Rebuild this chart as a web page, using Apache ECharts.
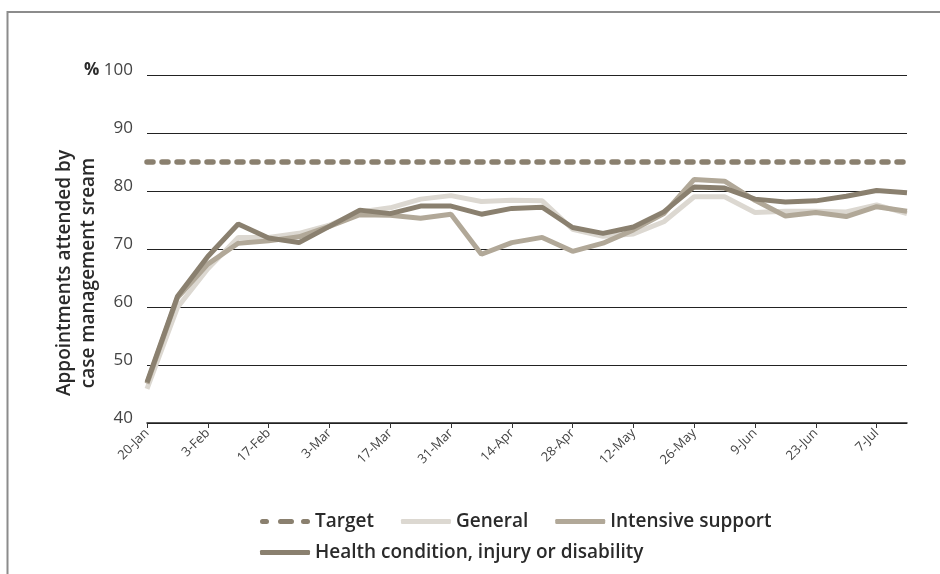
<!DOCTYPE html>
<html>
<head>
<meta charset="utf-8">
<script src="https://cdn.jsdelivr.net/npm/echarts@6/dist/echarts.min.js"></script>
<style>
  html, body { margin: 0; padding: 0; background: #fff; }
  #main { width: 940px; height: 574px; }
</style>
</head>
<body>
<div id="main"></div>
<script>
// weekly dates, 20-Jan to 14-Jul
var weeks = ["20-Jan", "27-Jan", "3-Feb", "10-Feb", "17-Feb", "24-Feb", "3-Mar", "10-Mar", "17-Mar",
  "24-Mar", "31-Mar", "7-Apr", "14-Apr", "21-Apr", "28-Apr", "5-May", "12-May", "19-May", "26-May",
  "2-Jun", "9-Jun", "16-Jun", "23-Jun", "30-Jun", "7-Jul", "14-Jul"];

var target = [85, 85, 85, 85, 85, 85, 85, 85, 85, 85, 85, 85, 85, 85, 85, 85, 85, 85, 85, 85, 85, 85, 85, 85, 85, 85];
var general = [45.9, 59.9, 66.6, 72.0, 72.0, 72.7, 74.1, 76.4, 77.1, 78.6, 79.2, 78.2, 78.4, 78.3, 73.4, 72.2,
  72.6, 74.7, 79.0, 79.0, 76.3, 76.5, 76.5, 76.4, 77.6, 76.1];
var intensive = [46.8, 61.6, 67.4, 71.0, 71.4, 72.1, 73.9, 75.9, 75.8, 75.3, 76.0, 69.1, 71.1, 72.0, 69.6, 71.0,
  73.3, 76.1, 82.0, 81.7, 78.4, 75.7, 76.3, 75.6, 77.3, 76.5];
var health = [47.0, 61.8, 68.7, 74.3, 71.9, 71.1, 73.9, 76.7, 76.1, 77.4, 77.4, 76.0, 77.0, 77.2, 73.7, 72.7,
  73.8, 76.4, 80.7, 80.5, 78.6, 78.1, 78.3, 79.1, 80.1, 79.7];

var yTicks = { min: 40, max: 100, step: 10 };

// dot - dash - dot legend icon for the target line
var dashIcon = "path://M2.5,0h4a2.5,2.5 0 0 1 0,5h-4a2.5,2.5 0 0 1 0,-5z" +
  "M20.5,0h11a2.5,2.5 0 0 1 0,5h-11a2.5,2.5 0 0 1 0,-5z" +
  "M43.5,0h4a2.5,2.5 0 0 1 0,5h-4a2.5,2.5 0 0 1 0,-5z";

var legendText = { fontSize: 19, fontWeight: 600, color: "#2a2a2a", fontFamily: "Open Sans" };

var chart = echarts.init(document.getElementById("main"));

var options = {
  backgroundColor: "#fff",
  animation: false,
  textStyle: { fontFamily: "Open Sans" },
  grid: { left: 147, right: 33, top: 75, bottom: 151 },
  graphic: [
    {
      type: "rect",
      shape: { x: 7.5, y: 12, width: 1000, height: 1000 },
      style: { fill: "none", stroke: "#8c8c8c", lineWidth: 2 },
      silent: true
    }
  ],
  legend: [
    {
      data: [
        { name: "Target", icon: dashIcon },
        { name: "General", icon: "roundRect" },
        { name: "Intensive support", icon: "roundRect" }
      ],
      left: 255, top: 507,
      itemWidth: 50, itemHeight: 5, itemGap: 27,
      itemStyle: { borderWidth: 0 },
      textStyle: legendText
    },
    {
      data: [{ name: "Health condition, injury or disability", icon: "roundRect" }],
      left: 255, top: 538,
      itemWidth: 50, itemHeight: 5,
      itemStyle: { borderWidth: 0 },
      textStyle: legendText
    }
  ],
  xAxis: {
    type: "category",
    data: weeks,
    boundaryGap: false,
    axisLine: { lineStyle: { color: "#222", width: 1.5 } },
    axisTick: { interval: 1, length: 5, lineStyle: { color: "#333" } },
    axisLabel: { interval: 1, rotate: 45, margin: 8, fontSize: 13, color: "#444" },
    splitLine: { show: false }
  },
  yAxis: {
    type: "value",
    min: yTicks.min,
    max: yTicks.max,
    interval: yTicks.step,
    name: "Appointments attended by\ncase management sream",
    nameLocation: "middle",
    nameGap: 46,
    nameMoveOverlap: false,
    nameTextStyle: { fontSize: 19, fontWeight: 600, color: "#2a2a2a", lineHeight: 24, padding: [0, 48, 0, 0] },
    axisLine: { show: false },
    axisTick: { show: false },
    axisLabel: {
      fontSize: 17, color: "#444", margin: 14, padding: [0, 0, 10, 0],
      formatter: function (v) { return v === 100 ? "{p|%} 100" : String(v); },
      rich: { p: { fontSize: 17, fontWeight: "bold", color: "#2a2a2a" } }
    },
    splitLine: { lineStyle: { color: "#222", width: 1 } }
  },
  series: [
    {
      name: "Target", type: "line", data: target, symbol: "none", z: 1,
      lineStyle: { color: "#8a806f", width: 5.5, type: [6, 9], cap: "round" },
      itemStyle: { color: "#8a806f" }
    },
    {
      name: "General", type: "line", data: general, symbol: "none", z: 2,
      lineStyle: { color: "#dcd8d1", width: 5 },
      itemStyle: { color: "#dcd8d1" }
    },
    {
      name: "Intensive support", type: "line", data: intensive, symbol: "none", z: 3,
      lineStyle: { color: "#b1a898", width: 5 },
      itemStyle: { color: "#b1a898" }
    },
    {
      name: "Health condition, injury or disability", type: "line", data: health, symbol: "none", z: 4,
      lineStyle: { color: "#8a806f", width: 5 },
      itemStyle: { color: "#8a806f" }
    }
  ]
};

chart.setOption(options);
</script>
</body>
</html>
